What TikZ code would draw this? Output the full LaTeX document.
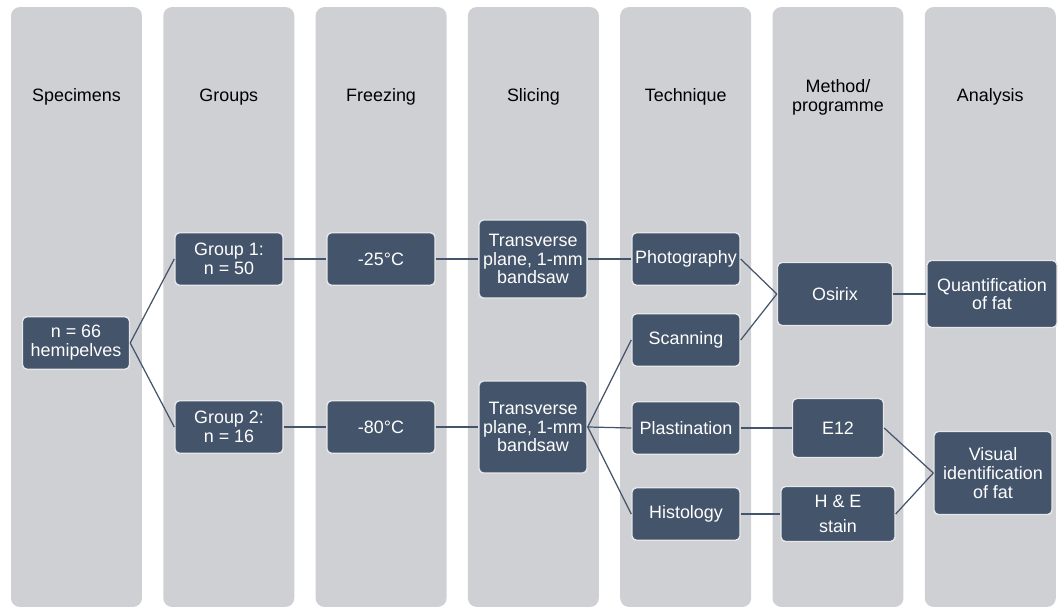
\documentclass[tikz,border=0pt]{standalone}
\usepackage{fontspec}
\setmainfont{Liberation Sans}
\usetikzlibrary{positioning}
\definecolor{colgray}{HTML}{CFD0D4}
\definecolor{boxslate}{HTML}{44546A}
\definecolor{boxrim}{HTML}{E6E7EA}

\begin{document}
\begin{tikzpicture}[
  x=0.02cm, y=-0.02cm,
  every node/.style={font=\fontsize{10.2}{10.7}\selectfont},
  lane/.style={rectangle, rounded corners=5pt, fill=colgray, minimum width=2.62cm, minimum height=12cm, inner sep=0pt},
  lanehead/.style={align=center, text=black},
  stepbox/.style={rectangle, rounded corners=2.5pt, draw=boxrim, line width=0.8pt, fill=boxslate, text=white, align=center, minimum width=2.16cm, minimum height=1.05cm, inner sep=1pt},
  link/.style={draw=boxslate, line width=0.7pt},
]
\useasboundingbox (0,0) rectangle (1063,608);

% Lanes and their headings
\foreach \i/\title in {1/Specimens, 2/Groups, 3/Freezing, 4/Slicing, 5/Technique, 6/{Method/\\programme}, 7/Analysis}{
  \node[lane] (lane\i) at ({76.5+152.3*(\i-1)}, 307) {};
  \node[lanehead] (head\i) at ({76.5+152.3*(\i-1)}, 97) {\title};
}

% Steps
\node[stepbox, minimum width=2.14cm] (spec) at (76,343) {n = 66\\hemipelves};

\node[stepbox] (group1) at (229,259) {Group 1:\\n = 50};
\node[stepbox] (group2) at (229,427) {Group 2:\\n = 16};

\node[stepbox] (cold1) at (381,259) {-25°C};
\node[stepbox] (cold2) at (381,427) {-80°C};

\node[stepbox, minimum height=1.56cm] (slice1) at (533,259) {Transverse\\plane, 1-mm\\bandsaw};
\node[stepbox, minimum height=1.84cm] (slice2) at (533,427) {Transverse\\plane, 1-mm\\bandsaw};

\node[stepbox] (photo) at (686,259) {Photography};
\node[stepbox] (scan) at (686,340) {Scanning};
\node[stepbox] (plast) at (686,428) {Plastination};
\node[stepbox] (histo) at (686,514) {Histology};

\node[stepbox, minimum width=2.3cm, minimum height=1.26cm] (osirix) at (835,294) {Osirix};
\node[stepbox, minimum width=1.82cm, minimum height=1.18cm] (e12) at (838,428) {E12};
\node[stepbox, minimum width=2.28cm, minimum height=1.1cm] (hne) at (838,514) {H \& E\\[3.5pt]stain};

\node[stepbox, minimum width=2.6cm, minimum height=1.34cm] (quant) at (992,294) {Quantification\\of fat};
\node[stepbox, minimum width=2.36cm, minimum height=1.66cm] (visual) at (993,473) {Visual\\identification\\of fat};

% Connectors
\draw[link] (spec.east) -- (group1.west);
\draw[link] (spec.east) -- (group2.west);
\draw[link] (group1) -- (cold1);
\draw[link] (group2) -- (cold2);
\draw[link] (cold1) -- (slice1);
\draw[link] (cold2) -- (slice2);
\draw[link] (slice1.east) -- (photo.west);
\draw[link] (slice2.east) -- (scan.west);
\draw[link] (slice2.east) -- (plast.west);
\draw[link] (slice2.east) -- (histo.west);
\draw[link] (photo.east) -- (osirix.west);
\draw[link] (scan.east) -- (osirix.west);
\draw[link] (osirix.east) -- (quant.west);
\draw[link] (plast.east) -- (e12.west);
\draw[link] (histo.east) -- (hne.west);
\draw[link] (e12.east) -- (visual.west);
\draw[link] (hne.east) -- (visual.west);

\end{tikzpicture}
\end{document}
